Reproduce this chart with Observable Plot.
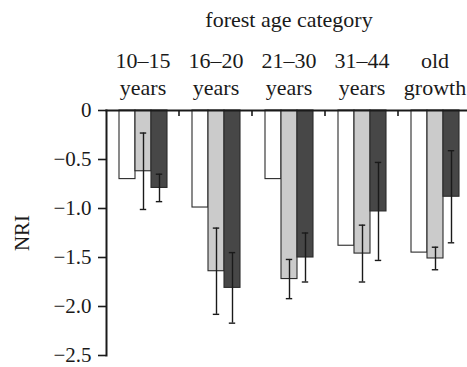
<!DOCTYPE html>
<html>
<head>
<meta charset="utf-8">
<script src="https://cdn.jsdelivr.net/npm/d3@7"></script>
<script src="https://cdn.jsdelivr.net/npm/@observablehq/plot@0.6"></script>
<style>
  html, body { margin: 0; padding: 0; background: #fff; }
  svg { font-family: "Liberation Serif", "DejaVu Serif", serif; }
</style>
</head>
<body>
<div id="chart"></div>
<script>
const groups = ["10–15\nyears", "16–20\nyears", "21–30\nyears", "31–44\nyears", "old\ngrowth"];
const series = ["series 1", "series 2", "series 3"];
const seriesColors = ["#ffffff", "#cbcbcb", "#474747"];
const values1 = [-0.70, -0.99, -0.70, -1.38, -1.45];
const values2 = [-0.62, -1.64, -1.72, -1.46, -1.51];
const errors2 = [0.39, 0.44, 0.20, 0.29, 0.115];
const values3 = [-0.79, -1.81, -1.50, -1.03, -0.88];
const errors3 = [0.14, 0.36, 0.25, 0.50, 0.47];
const yTicks = [0, -0.5, -1.0, -1.5, -2.0, -2.5];

const rows = [];
groups.forEach((g, i) => {
  rows.push({group: g, series: series[0], value: values1[i], err: null});
  rows.push({group: g, series: series[1], value: values2[i], err: errors2[i]});
  rows.push({group: g, series: series[2], value: values3[i], err: errors3[i]});
});
const errRows = rows.filter(d => d.err != null).map(d => ({...d, lo: d.value - d.err, hi: d.value + d.err}));

const plot = Plot.plot({
  width: 467,
  height: 367,
  marginTop: 110,
  marginBottom: 12,
  marginLeft: 105,
  marginRight: -4,
  style: {fontFamily: "Liberation Serif, serif", fontSize: "21px", color: "#1a1a1a", background: "#fff"},
  fx: {domain: groups, padding: 0, label: null},
  x: {domain: series, paddingInner: 0, paddingOuter: 0.69, axis: null},
  y: {domain: [-2.5, 0], label: null},
  color: {domain: series, range: seriesColors},
  marks: [
    Plot.barY(rows, {fx: "group", x: "series", y: "value", fill: "series", stroke: "#2a2a2a", strokeWidth: 1.1}),
    Plot.ruleX(errRows, {fx: "group", x: "series", y1: "lo", y2: "hi", stroke: "#1a1a1a", strokeWidth: 1.4}),
    Plot.tickY(errRows, {fx: "group", x: "series", y: "lo", stroke: "#1a1a1a", strokeWidth: 1.4, insetLeft: 4.8, insetRight: 4.8}),
    Plot.tickY(errRows, {fx: "group", x: "series", y: "hi", stroke: "#1a1a1a", strokeWidth: 1.4, insetLeft: 4.8, insetRight: 4.8}),
    Plot.frame({anchor: "top", facet: "super", stroke: "#1a1a1a", strokeWidth: 2}),
    Plot.frame({anchor: "left", facet: "super", stroke: "#1a1a1a", strokeWidth: 2}),
    Plot.axisY({ticks: yTicks, tickSize: 8, tickPadding: 7, fontSize: 21, tickFormat: d => d === 0 ? "0" : d3.format(".1f")(d).replace("-", "−"), label: "NRI", labelArrow: "none", labelAnchor: "center", labelOffset: 92, stroke: "#1a1a1a", strokeWidth: 1.6}),
    Plot.axisFx({anchor: "top", tickSize: 0, tickPadding: 16, fontSize: 22, lineHeight: 1.22, label: "forest age category", labelArrow: "none", labelAnchor: "center", labelOffset: 99})
  ]
});

// small dividers between age categories along the zero line
const fx = plot.scale("fx");
const y = plot.scale("y");
const svg = d3.select(plot);
const y0 = y.apply(0);
for (let i = 1; i < fx.domain.length; i++) {
  const xb = fx.apply(fx.domain[i]);
  svg.append("line").attr("x1", xb).attr("x2", xb).attr("y1", y0).attr("y2", y0 + 6)
    .attr("stroke", "#1a1a1a").attr("stroke-width", 1.6);
}
document.getElementById("chart").appendChild(plot);
</script>
</body>
</html>
